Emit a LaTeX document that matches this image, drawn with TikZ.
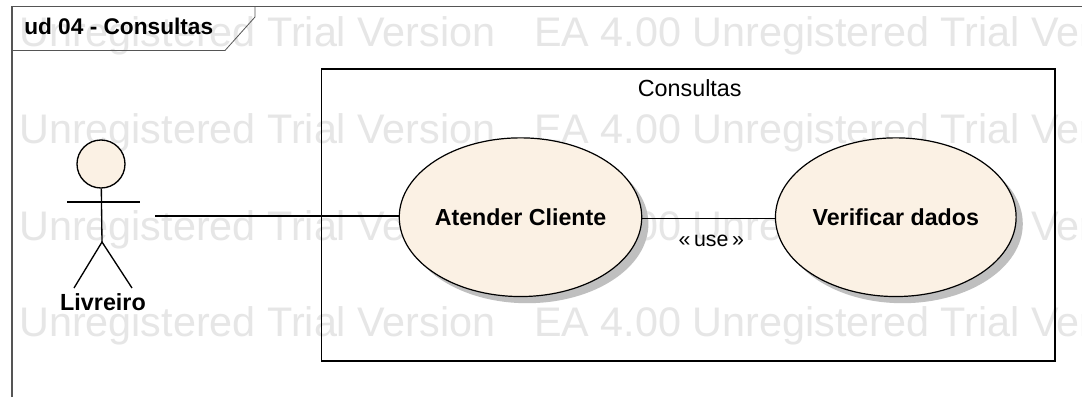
\documentclass[tikz,border=0pt]{standalone}
\usepackage{fontspec}
\setmainfont{Liberation Sans}
\usetikzlibrary{shapes.geometric, shadows}
\definecolor{creme}{HTML}{FBF1E4}
\definecolor{marca}{HTML}{E6E6E6}
\definecolor{ombra}{HTML}{BFBFBF}
\definecolor{cornice}{HTML}{555555}
\tikzset{
	usecase/.style={ellipse, draw, fill=creme, line width=0.9pt, minimum width=180.5pt, minimum height=119pt, inner sep=0pt,
		drop shadow={shadow xshift=5pt, shadow yshift=-5pt, fill=ombra, opacity=1},
		font=\fontsize{17.4pt}{20pt}\bfseries},
	watermark/.style={anchor=base west, inner sep=0pt, text=marca, font=\fontsize{31pt}{34pt}\selectfont},
	linea/.style={line width=1pt, black},
}
\begin{document}
\begin{tikzpicture}[x=0.75pt, y=-0.75pt]
	\useasboundingbox (0,0) rectangle (1082,397);
	\clip (0,0) rectangle (1082,397);
	\fill[white] (0,0) rectangle (1082,397);

	%%% Watermark
	\foreach \y/\n in {46.5/a, 143/b, 240/c, 336/d}
	\node [watermark] (mark\n) at (19,\y) {Unregistered Trial Version\hspace{29pt}EA 4.00 Unregistered Trial Version};

	%%% Frame
	\draw[cornice, line width=0.8pt] (12,397) -- (12,6.5) -- (1082,6.5);
	\draw[cornice, line width=0.6pt] (12,50.5) -- (225,50.5) -- (255,17) -- (255,6.5);
	\node [anchor=base west, inner sep=0pt, font=\fontsize{17pt}{20pt}\bfseries] (titolo) at (24,34.5) {ud 04 - Consultas};

	%%% Boundary
	\node [draw, line width=1pt, minimum width=550pt, minimum height=219pt, inner sep=0pt] (sistema) at (688.2,215) {};
	\node [anchor=base, font=\fontsize{17.5pt}{20pt}\selectfont, inner sep=0pt] (consultas) at (689.7,96.7) {Consultas};

	%%% Use cases
	\node [usecase] (atender) at (520.5,217.2) {Atender Cliente};
	\node [usecase] (verificar) at (895.8,217.2) {Verificar dados};

	%%% Actor
	\node [circle, draw, fill=creme, line width=1pt, minimum size=36pt, inner sep=0pt] (testa) at (101,164) {};
	\coordinate (spallaS) at (67,202);
	\coordinate (spallaD) at (140,202);
	\coordinate (anca) at (102,242);
	\coordinate (piedeS) at (74,288);
	\coordinate (piedeD) at (132,288);
	\coordinate (mano) at (155,216);
	\draw[linea] (testa) -- (anca);
	\draw[linea] (spallaS) -- (spallaD);
	\draw[linea] (piedeS) -- (anca) -- (piedeD);
	\node [font=\fontsize{17.5pt}{20pt}\bfseries, inner sep=0pt] (livreiro) at (103,302) {Livreiro};

	%%% Connectors
	\draw[linea] (mano) -- (atender.west |- mano);
	\draw[linea] ([yshift=-0.8pt]atender.east) -- ([yshift=-0.8pt]verificar.west);
	\node [anchor=base, font=\fontsize{16pt}{18pt}\selectfont, inner sep=0pt] (use) at (711.3,246.7) {«\,use\,»};
\end{tikzpicture}
\end{document}
